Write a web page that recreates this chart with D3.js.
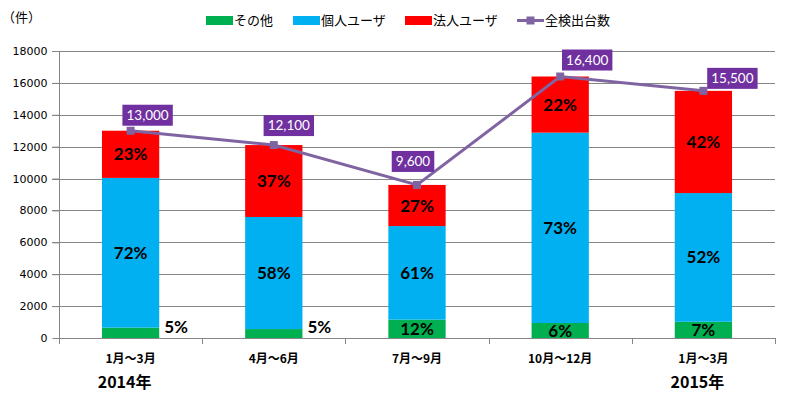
<!DOCTYPE html>
<html>
<head>
<meta charset="utf-8">
<script src="https://cdn.jsdelivr.net/npm/d3@7"></script>
<style>
  body { margin: 0; background: #fff; }
  svg text { font-family: "Noto Sans CJK JP", "Noto Sans", sans-serif; }
  .tick-y { font-family: "DejaVu Sans", sans-serif !important; font-size: 11px; }
  .pct { font-family: Lato, "Noto Sans", sans-serif !important; font-weight: bold; font-size: 17px; }
  .val { font-family: Lato, "Noto Sans", sans-serif !important; font-size: 13.5px; fill: #fff; }
</style>
</head>
<body>
<div id="chart"></div>
<script>
// data
var quarters = ["1月～3月", "4月～6月", "7月～9月", "10月～12月", "1月～3月"];
var years = ["2014年", "", "", "", "2015年"];
var other = [650, 560, 1150, 940, 1020];
var personal = [9390, 7030, 5870, 11940, 8070];
var corporate = [2960, 4510, 2580, 3520, 6410];
var totals = [13000, 12100, 9600, 16400, 15500];
var otherPct = ["5%", "5%", "12%", "6%", "7%"];
var personalPct = ["72%", "58%", "61%", "73%", "52%"];
var corporatePct = ["23%", "37%", "27%", "22%", "42%"];
var yTicks = [0, 2000, 4000, 6000, 8000, 10000, 12000, 14000, 16000, 18000];

var seriesNames = ["その他", "個人ユーザ", "法人ユーザ", "全検出台数"];
var colors = ["#00B050", "#00B0F0", "#FF0000", "#8064A2"];

// label nudges for the total boxes (dx of centre, dy of bottom edge from the marker)
var labelNudge = [[17, -5], [15, -9], [-4, -13], [27, -6], [29, -2]];

var width = 811, height = 395;
var m = { left: 59, right: 775, top: 51, bottom: 338 };

var svg = d3.select("#chart").append("svg")
  .attr("width", width)
  .attr("height", height);

var x = d3.scaleBand().domain(d3.range(quarters.length)).range([m.left, m.right]).padding(0);
var y = d3.scaleLinear().domain([0, 18000]).range([m.bottom, m.top]);
var barW = x.bandwidth() * 0.4;
var cx = function(i) { return x(i) + x.bandwidth() / 2; };

// grid lines
svg.append("g").selectAll("line")
  .data(yTicks.filter(function(d) { return d > 0; }))
  .enter().append("line")
  .attr("x1", m.left - 7).attr("x2", m.right)
  .attr("y1", function(d) { return Math.round(y(d)) + 0.5; })
  .attr("y2", function(d) { return Math.round(y(d)) + 0.5; })
  .attr("stroke", "#868686").attr("stroke-width", 1);

// y axis
var yAxis = svg.append("g")
  .attr("transform", "translate(" + (m.left + 0.5) + ",0)")
  .call(d3.axisLeft(y).tickValues(yTicks).tickSize(7).tickPadding(5).tickFormat(d3.format("d")));
yAxis.select(".domain").attr("stroke", "#868686").attr("d", "M0," + m.top + "V" + (m.bottom + 5));
yAxis.selectAll(".tick line").attr("stroke", "#868686");
yAxis.selectAll("text").attr("class", "tick-y").attr("fill", "#000");

svg.append("text").text("（件）")
  .attr("x", 2).attr("y", 22)
  .attr("font-size", 13).attr("fill", "#000");

// stacked bars
var stacks = quarters.map(function(q, i) {
  return [
    { i: i, y0: 0, y1: other[i], c: colors[0], label: otherPct[i] },
    { i: i, y0: other[i], y1: other[i] + personal[i], c: colors[1], label: personalPct[i] },
    { i: i, y0: other[i] + personal[i], y1: other[i] + personal[i] + corporate[i], c: colors[2], label: corporatePct[i] }
  ];
});
var segs = [].concat.apply([], stacks);

svg.append("g").selectAll("rect")
  .data(segs)
  .enter().append("rect")
  .attr("x", function(d) { return cx(d.i) - barW / 2; })
  .attr("y", function(d) { return y(d.y1); })
  .attr("width", barW)
  .attr("height", function(d) { return y(d.y0) - y(d.y1); })
  .attr("fill", function(d) { return d.c; });

svg.append("g").selectAll("text")
  .data(segs)
  .enter().append("text")
  .attr("class", "pct")
  .text(function(d) { return d.label; })
  .attr("x", function(d) {
    var h = y(d.y0) - y(d.y1);
    return h < 12 ? cx(d.i) + barW / 2 + 5 : cx(d.i);
  })
  .attr("y", function(d) {
    var h = y(d.y0) - y(d.y1);
    return h < 12 ? m.bottom - 5 : (y(d.y0) + y(d.y1)) / 2 + 6;
  })
  .attr("text-anchor", function(d) {
    return (y(d.y0) - y(d.y1)) < 12 ? "start" : "middle";
  })
  .attr("fill", "#000");

// x axis
var xa = svg.append("g");
xa.append("line")
  .attr("x1", m.left).attr("x2", m.right + 0.5)
  .attr("y1", m.bottom + 0.5).attr("y2", m.bottom + 0.5)
  .attr("stroke", "#868686");
xa.selectAll(".xt")
  .data(d3.range(quarters.length + 1))
  .enter().append("line")
  .attr("x1", function(i) { return Math.round(m.left + i * x.step()) + 0.5; })
  .attr("x2", function(i) { return Math.round(m.left + i * x.step()) + 0.5; })
  .attr("y1", m.bottom).attr("y2", m.bottom + 6)
  .attr("stroke", "#868686");
xa.selectAll(".ql")
  .data(quarters)
  .enter().append("text")
  .text(function(d) { return d; })
  .attr("x", function(d, i) { return cx(i); })
  .attr("y", m.bottom + 25)
  .attr("text-anchor", "middle")
  .attr("font-size", 12).attr("font-weight", "bold").attr("fill", "#000");
xa.selectAll(".yl")
  .data(years)
  .enter().append("text")
  .text(function(d) { return d; })
  .attr("x", function(d, i) { return cx(i) - 6; })
  .attr("y", m.bottom + 50)
  .attr("text-anchor", "middle")
  .attr("font-size", 16).attr("font-weight", "bold").attr("fill", "#000");

// total line
var line = d3.line()
  .x(function(d, i) { return cx(i); })
  .y(function(d) { return y(d); });
svg.append("path")
  .datum(totals)
  .attr("d", line)
  .attr("fill", "none")
  .attr("stroke", colors[3])
  .attr("stroke-width", 3);
svg.append("g").selectAll("rect")
  .data(totals)
  .enter().append("rect")
  .attr("x", function(d, i) { return cx(i) - 4; })
  .attr("y", function(d) { return y(d) - 4; })
  .attr("width", 8).attr("height", 8)
  .attr("fill", colors[3]);

// total labels
var fmt = d3.format(",");
var lab = svg.append("g").selectAll("g")
  .data(totals)
  .enter().append("g");
lab.append("rect")
  .attr("fill", "#7030A0");
lab.append("text")
  .attr("class", "val")
  .text(function(d) { return fmt(d); })
  .attr("text-anchor", "middle")
  .attr("x", function(d, i) { return cx(i) + labelNudge[i][0]; })
  .attr("y", function(d, i) { return y(d) + labelNudge[i][1] - 6; });
lab.each(function(d, i) {
  var g = d3.select(this);
  var bb = g.select("text").node().getBBox();
  var w = bb.width + 8, h = 21;
  g.select("rect")
    .attr("x", cx(i) + labelNudge[i][0] - w / 2)
    .attr("y", y(d) + labelNudge[i][1] - h)
    .attr("width", w).attr("height", h);
});

// legend
var legendX = [206, 293, 405, 517];
var legend = svg.append("g").selectAll("g")
  .data(seriesNames)
  .enter().append("g")
  .attr("transform", function(d, i) { return "translate(" + legendX[i] + ",20)"; });
legend.each(function(d, i) {
  var g = d3.select(this);
  if (i < 3) {
    g.append("rect").attr("x", 0).attr("y", -4).attr("width", 27).attr("height", 9).attr("fill", colors[i]);
  } else {
    g.append("line").attr("x1", 0).attr("x2", 27).attr("y1", 0.5).attr("y2", 0.5)
      .attr("stroke", colors[3]).attr("stroke-width", 3);
    g.append("rect").attr("x", 9.5).attr("y", -3.5).attr("width", 8).attr("height", 8).attr("fill", colors[3]);
  }
  g.append("text").text(d)
    .attr("x", 28).attr("y", 5)
    .attr("font-size", 13).attr("fill", "#000");
});
</script>
</body>
</html>
